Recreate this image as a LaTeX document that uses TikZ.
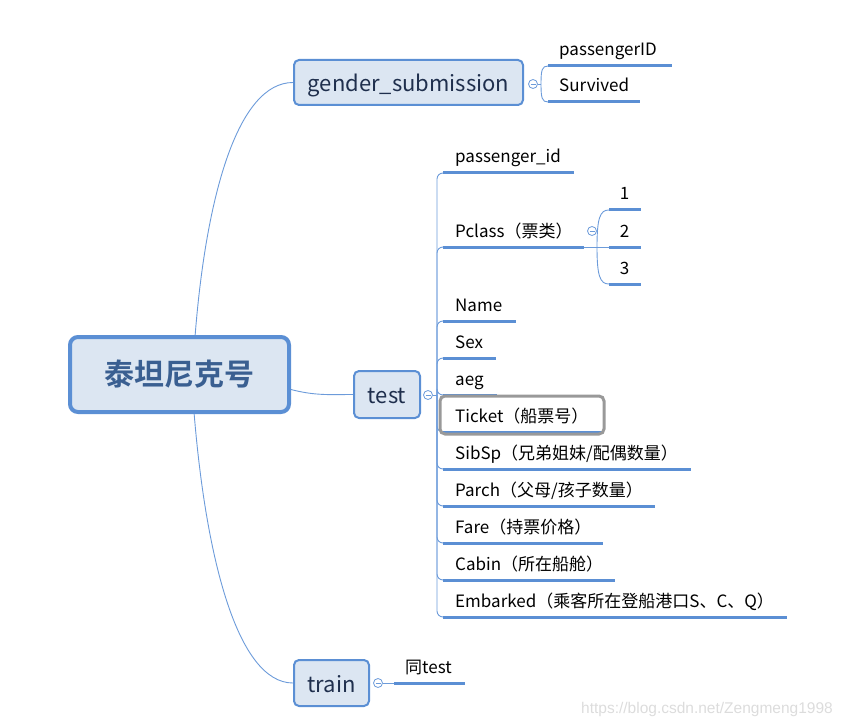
\documentclass[tikz,border=0pt]{standalone}
\usepackage{fontspec}
\usetikzlibrary{backgrounds}
\setmainfont{Noto Sans CJK SC}[BoldFont={Noto Sans CJK SC Bold}]
\newfontfamily\wmfont{Liberation Sans}
\definecolor{mblue}{HTML}{5B8FD4}
\definecolor{mfill}{HTML}{DCE6F2}
\definecolor{rootText}{HTML}{3A5F91}
\definecolor{topicText}{HTML}{1F2F4D}
\definecolor{lineblue}{HTML}{6C9BDA}
\definecolor{wmgray}{HTML}{DCDCDC}
\definecolor{selgray}{HTML}{999999}
\begin{document}
\begin{tikzpicture}[x=1pt,y=-1pt,
  conn/.style={draw=lineblue, line width=0.9pt},
  uline/.style={draw=mblue, line width=3pt},
  leaf/.style={anchor=base west, inner sep=0pt, font=\fontsize{17}{19}\selectfont, text=black},
  num/.style={anchor=base, inner sep=0pt, font=\fontsize{17}{19}\selectfont, text=black},
  topic/.style={draw=mblue, fill=mfill, line width=2pt, rounded corners=5pt, inner sep=0pt, text height=18pt, text depth=0pt, text=topicText, font=\fontsize{22}{24}\selectfont},
  coll/.style={circle, draw=lineblue, fill=white, line width=0.8pt, minimum size=9pt, inner sep=0pt}]
\useasboundingbox (0,0) rectangle (842,727);

% topic boxes
\node[topic, line width=4pt, rounded corners=8pt, minimum width=219pt, minimum height=75pt, text height=, text depth=, text=rootText, font=\fontsize{30}{32}\selectfont\bfseries] (root) at (179.5,374.5) {泰坦尼克号};
\node[topic, minimum width=229pt, minimum height=45pt] (gs) at (408.5,82.5) {gender\_submission};
\node[topic, minimum width=66pt, minimum height=47pt] (test) at (387,394.5) {test};
\node[topic, minimum width=75pt, minimum height=46pt] (train) at (331.5,683) {train};

% root connectors
\coordinate (rtop) at (195,337);
\coordinate (rbot) at (194,412);
\coordinate (rright) at (289,389);
\begin{scope}[on background layer]
\draw[conn] (rtop) .. controls (206,195) and (238,82.5) .. (gs.west);
\draw[conn] (rright) .. controls (315,396) and (330,394.5) .. (test.west);
\draw[conn] (rbot) .. controls (206,560) and (238,683) .. (train.west);
\end{scope}

% collapse circles
\node[coll] (gsc) at (533,84) {};
\node[coll] (testc) at (428,395) {};
\node[coll] (trainc) at (378,683) {};
\node[coll] (pcc) at (592,231) {};
\foreach \c in {gsc,testc,trainc,pcc}
  \draw[lineblue, line width=0.8pt] ([xshift=-2.5pt]\c.center) -- ([xshift=2.5pt]\c.center);

% gender_submission leaves
\coordinate (gsj) at (541,84);
\draw[conn] (gsc.east) -- (gsj);
\draw[uline] (548,66) coordinate (pid2-s) -- (672,66) coordinate (pid2-e);
\draw[uline] (548,102) coordinate (surv-s) -- (640,102) coordinate (surv-e);
\draw[conn] (gsj) .. controls (541,70) and (542,66) .. (pid2-s);
\draw[conn] (gsj) .. controls (541,98) and (542,102) .. (surv-s);
\node[leaf] (pid2) at (559,56) {passengerID};
\node[leaf] (surv) at (559,92) {Survived};

% test leaves
\coordinate (tj) at (437,395);
\draw[conn] (testc.east) -- (tj);
\foreach \s/\yy/\e in {pid/173/574, pcl/247/584, name/321/516, sex/358/496, aeg/395/497, tic/432/602, sib/469/691, par/506/655, fare/543/603, cab/580/615, emb/617/787}{
  \draw[conn, rounded corners=6pt] (tj) |- (443,\yy);
  \draw[uline] (443,\yy) coordinate (\s-s) -- (\e,\yy) coordinate (\s-e);
}
\node[leaf] (pid) at (455,163) {passenger\_id};
\node[leaf] (pcl) at (455,237) {Pclass（票类）};
\node[leaf] (name) at (455,311) {Name};
\node[leaf] (sex) at (455,348) {Sex};
\node[leaf] (aeg) at (455,385) {aeg};
\node[leaf] (tic) at (455,422) {Ticket（船票号）};
\node[leaf] (sib) at (455,459) {SibSp（兄弟姐妹/配偶数量）};
\node[leaf] (par) at (455,496) {Parch（父母/孩子数量）};
\node[leaf] (fare) at (455,533) {Fare（持票价格）};
\node[leaf] (cab) at (455,570) {Cabin（所在船舱）};
\node[leaf] (emb) at (455,607) {Embarked（乘客所在登船港口S、C、Q）};

% selection frame
\draw[selgray, line width=3pt, rounded corners=5pt] (440,396) rectangle (604,434);

% Pclass children
\coordinate (pj) at (597,247);
\draw[conn] (pcl-e) -- (609,247);
\draw[uline] (609,210) coordinate (c1-s) -- (641,210);
\draw[uline] (609,247) coordinate (c2-s) -- (641,247);
\draw[uline] (609,284) coordinate (c3-s) -- (641,284);
\draw[conn] (pj) .. controls (597,218) and (600,210) .. (c1-s);
\draw[conn] (pj) .. controls (597,276) and (600,284) .. (c3-s);
\node[num] (n1) at (624.5,200) {1};
\node[num] (n2) at (624.5,237) {2};
\node[num] (n3) at (624.5,274) {3};

% train leaf
\draw[uline] (394,683) coordinate (same-s) -- (465,683);
\draw[conn] (trainc.east) -- (same-s);
\node[leaf] (same) at (405,673) {同test};

% watermark
\node[anchor=east, inner sep=0pt, text=wmgray, font=\wmfont\fontsize{15.5}{17}\selectfont] (wm) at (833,709) {https://blog.csdn.net/Zengmeng1998};
\end{tikzpicture}
\end{document}
